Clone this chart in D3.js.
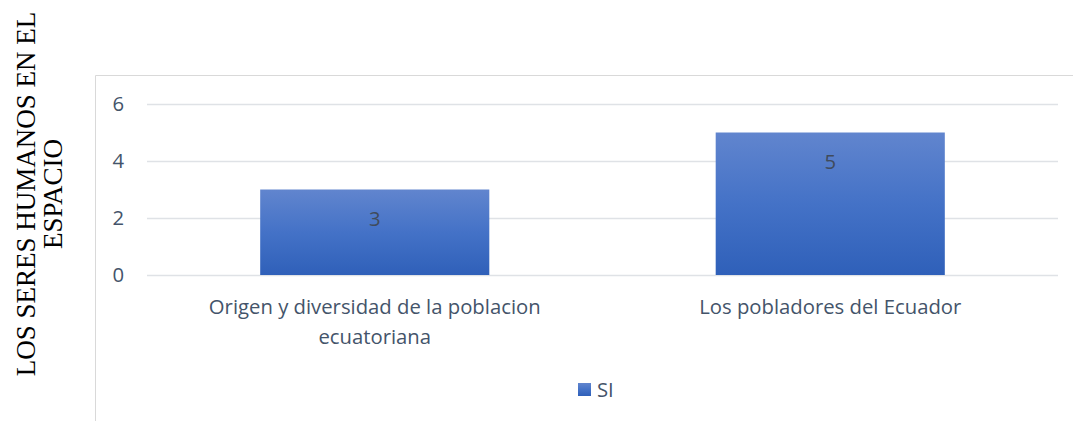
<!DOCTYPE html>
<html>
<head>
<meta charset="utf-8">
<script src="https://cdn.jsdelivr.net/npm/d3@7"></script>
<style>
  body { margin: 0; background: #fff; }
  svg { display: block; }
</style>
</head>
<body>
<div id="chart"></div>
<script>
// data
const categories = ["Origen y diversidad de la poblacion ecuatoriana", "Los pobladores del Ecuador"];
const categoryLines = [["Origen y diversidad de la poblacion", "ecuatoriana"], ["Los pobladores del Ecuador"]];
const seriesName = "SI";
const values = [3, 5];
const yTicks = [0, 2, 4, 6];
const yTitle = ["LOS SERES HUMANOS EN EL", "ESPACIO"];

const W = 1073, H = 421;
const margin = {top: 104, right: 15, bottom: 146, left: 147};
const width = W - margin.left - margin.right,
      height = H - margin.top - margin.bottom;

const fontSans = "Open Sans, sans-serif";
const fs = 20.3;

const svg = d3.select("#chart")
  .append("svg")
  .attr("width", W)
  .attr("height", H);

// gradient for bars
const grad = svg.append("defs").append("linearGradient")
  .attr("id", "barGrad")
  .attr("x1", 0).attr("y1", 0).attr("x2", 0).attr("y2", 1);
grad.append("stop").attr("offset", "0%").attr("stop-color", "#6185ce");
grad.append("stop").attr("offset", "50%").attr("stop-color", "#4472c7");
grad.append("stop").attr("offset", "100%").attr("stop-color", "#2f60b9");

// chart area frame (left and top edges visible)
svg.append("path")
  .attr("d", "M95.5," + H + " V75.5 H" + W)
  .attr("fill", "none")
  .attr("stroke", "#d9d9d9")
  .attr("stroke-width", 1);

const g = svg.append("g")
  .attr("transform", "translate(" + margin.left + "," + margin.top + ")");

const x = d3.scaleBand()
  .domain(categories)
  .range([0, width])
  .paddingInner(0.497)
  .paddingOuter(0.2485);

const y = d3.scaleLinear()
  .domain([0, 6])
  .range([height, 0]);

// gridlines
g.selectAll(".grid")
  .data(yTicks)
  .enter()
  .append("line")
  .attr("x1", 0)
  .attr("x2", width)
  .attr("y1", d => Math.round(y(d)) + 0.5)
  .attr("y2", d => Math.round(y(d)) + 0.5)
  .attr("stroke", "#dfe2e6")
  .attr("stroke-width", 1.5);

// y axis labels
const yAxis = g.append("g")
  .call(d3.axisLeft(y).tickValues(yTicks).tickFormat(d3.format("d")).tickSize(0).tickPadding(23));
yAxis.select(".domain").remove();
yAxis.selectAll("text")
  .attr("font-family", fontSans)
  .attr("font-size", fs)
  .attr("fill", "#44546a");

// bars
g.selectAll(".bar")
  .data(values)
  .enter()
  .append("rect")
  .attr("x", (d, i) => x(categories[i]))
  .attr("y", d => y(d))
  .attr("width", x.bandwidth())
  .attr("height", d => height - y(d))
  .attr("fill", "url(#barGrad)");

// data labels
g.selectAll(".lbl")
  .data(values)
  .enter()
  .append("text")
  .attr("x", (d, i) => x(categories[i]) + x.bandwidth() / 2)
  .attr("y", d => y(d) + 29)
  .attr("dy", "0.35em")
  .attr("text-anchor", "middle")
  .attr("font-family", fontSans)
  .attr("font-size", fs)
  .attr("fill", "#404b5c")
  .text(d => d);

// category labels
const cat = g.selectAll(".cat")
  .data(categories)
  .enter()
  .append("text")
  .attr("text-anchor", "middle")
  .attr("font-family", fontSans)
  .attr("font-size", fs)
  .attr("fill", "#44546a")
  .attr("transform", d => "translate(" + (x(d) + x.bandwidth() / 2) + "," + (height + 39) + ")");
cat.selectAll("tspan")
  .data((d, i) => categoryLines[i])
  .enter()
  .append("tspan")
  .attr("x", 0)
  .attr("y", (d, i) => i * 30)
  .text(d => d);

// legend
const legend = svg.append("g").attr("transform", "translate(578,383)");
legend.append("rect")
  .attr("width", 13).attr("height", 13)
  .attr("fill", "url(#barGrad)");
legend.append("text")
  .attr("x", 19).attr("y", 6.5)
  .attr("dy", "0.35em")
  .attr("font-family", fontSans)
  .attr("font-size", fs)
  .attr("fill", "#44546a")
  .text(seriesName);

// y axis title (rotated, two lines)
const title = svg.append("text")
  .attr("transform", "translate(35,194) rotate(-90)")
  .attr("text-anchor", "middle")
  .attr("font-family", "Liberation Serif, Times New Roman, serif")
  .attr("font-size", 27)
  .attr("fill", "#000");
title.selectAll("tspan")
  .data(yTitle)
  .enter()
  .append("tspan")
  .attr("x", 0)
  .attr("y", (d, i) => i * 27)
  .text(d => d);
</script>
</body>
</html>
